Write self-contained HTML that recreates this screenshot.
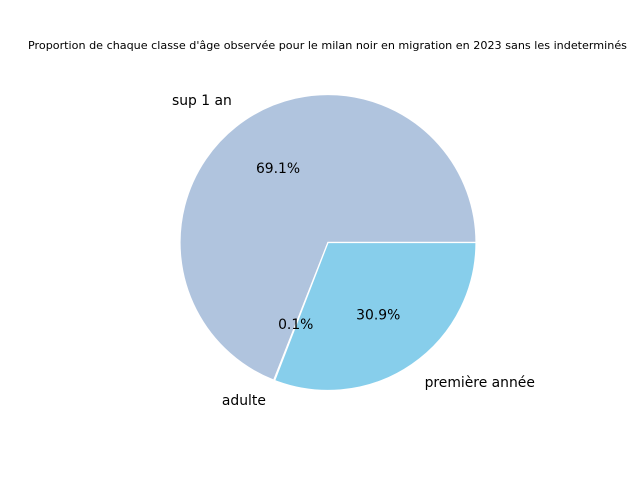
<!DOCTYPE html>
<html><head><meta charset="utf-8"><style>
body{margin:0;background:#fff;}
svg{display:block;font-family:"DejaVu Sans","Liberation Sans",sans-serif;}
</style></head><body>
<svg id="chart" width="640" height="480" viewBox="0 0 640 480">
<text x="327.5" y="49" font-size="10.5" text-anchor="middle" textLength="599" lengthAdjust="spacingAndGlyphs" fill="#000">Proportion de chaque classe d'âge observée pour le milan noir en migration en 2023 sans les indeterminés</text>
<g id="slices"></g>
<g id="labels"></g>
</svg>
<script>
const categories = ["sup 1 an", "adulte", "première année"];
const values = [69.1, 0.1, 30.9];
const pctLabels = ["69.1%", "0.1%", "30.9%"];
const colors = ["#b0c4de", "#4682b4", "#87ceeb"];
const cx = 328, cy = 242.5, r = 148;
const g = document.getElementById('slices');
const gl = document.getElementById('labels');
const NS = "http://www.w3.org/2000/svg";
const total = values.reduce((a,b)=>a+b,0);
let start = 0;
function pt(angDeg, rad){const a = angDeg*Math.PI/180; return [cx + rad*Math.cos(a), cy - rad*Math.sin(a)];}
values.forEach((v,i)=>{
  const sweep = v/total*360;
  const end = start + sweep;
  const [x1,y1] = pt(start, r), [x2,y2] = pt(end, r);
  const large = sweep > 180 ? 1 : 0;
  const p = document.createElementNS(NS,'path');
  p.setAttribute('d', `M${cx},${cy} L${x1},${y1} A${r},${r} 0 ${large} 0 ${x2},${y2} Z`);
  p.setAttribute('fill', colors[i]);
  p.setAttribute('stroke', '#fff');
  p.setAttribute('stroke-width', '1.2');
  
  
  g.appendChild(p);
  const mid = start + sweep/2;
  const [lx,ly] = pt(mid, r*1.1 + 8);
  const t = document.createElementNS(NS,'text');
  t.setAttribute('x', lx); t.setAttribute('y', ly + 3.5);
  t.setAttribute('font-size', '13.9');
  t.setAttribute('text-anchor', lx < cx ? 'end' : 'start');
  t.textContent = categories[i];
  
  
  gl.appendChild(t);
  const [px,py] = pt(mid, r*0.6);
  const tp = document.createElementNS(NS,'text');
  tp.setAttribute('x', px); tp.setAttribute('y', py + 4);
  tp.setAttribute('font-size', '13.9');
  tp.setAttribute('text-anchor', 'middle');
  tp.textContent = pctLabels[i];
  
  
  gl.appendChild(tp);
  start = end;
});
</script>
</body></html>
